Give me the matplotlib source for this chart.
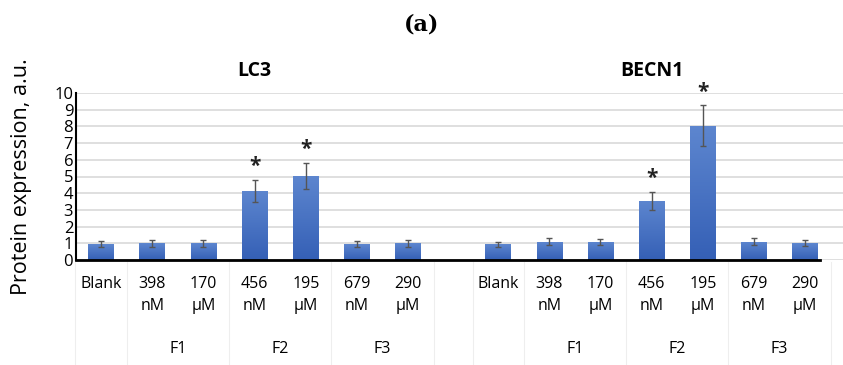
import numpy as np
import matplotlib.pyplot as plt
from matplotlib.colors import LinearSegmentedColormap

# datos
etiquetas = ['Blank', '398\nnM', '170\nμM', '456\nnM', '195\nμM', '679\nnM', '290\nμM']
grupos = ['F1', 'F2', 'F3']
lc3 = [0.95, 1.0, 1.0, 4.15, 5.05, 0.95, 1.0]
lc3_err = [0.18, 0.22, 0.22, 0.65, 0.78, 0.2, 0.2]
becn1 = [0.95, 1.1, 1.1, 3.55, 8.05, 1.1, 1.0]
becn1_err = [0.15, 0.2, 0.18, 0.55, 1.22, 0.2, 0.18]
lc3_sig = [False, False, False, True, True, False, False]
becn1_sig = [False, False, False, True, True, False, False]

plt.rcParams['font.family'] = ['Open Sans', 'DejaVu Sans']

fig = plt.figure(figsize=(8.43, 3.65), dpi=100)
ax = fig.add_axes([76 / 843, 1 - 260 / 365, 1 - 76 / 843, 167 / 365])

offset = 7.76
x1 = np.arange(7)
x2 = np.arange(7) + offset
cmap = LinearSegmentedColormap.from_list('azul', ['#3560b6', '#5d86cf'])
grad = np.linspace(0, 1, 64).reshape(-1, 1)

for xs, vals, errs, sig in [(x1, lc3, lc3_err, lc3_sig), (x2, becn1, becn1_err, becn1_sig)]:
    barras = ax.bar(xs, vals, width=0.5, color='#4673c6', zorder=3)
    # degradado vertical dentro de cada barra
    for b in barras:
        x0, y0 = b.get_x(), b.get_y()
        im = ax.imshow(grad, cmap=cmap, origin='lower', aspect='auto',
                       extent=[x0, x0 + b.get_width(), y0, y0 + b.get_height()], zorder=3.5)
        im.set_clip_path(b)
    ax.errorbar(xs, vals, yerr=errs, fmt='none', ecolor='#555555', elinewidth=1,
                capsize=2.5, capthick=1, zorder=4)
    for x, v, e, s in zip(xs, vals, errs, sig):
        if s:
            ax.text(x, v + e + 0.15, '*', ha='center', va='bottom', fontsize=15,
                    fontweight='bold', color='#222222')

ax.set_xlim(-0.49, 14.5)
ax.set_ylim(0, 10)
ax.set_yticks(range(0, 11))
ax.tick_params(axis='y', length=0, labelsize=12, pad=2)
ax.set_xticks([])
ax.yaxis.grid(True, color='#d9d9d9', linewidth=1.2, zorder=0)
for s in ['top', 'right', 'bottom']:
    ax.spines[s].set_visible(False)
ax.spines['left'].set_linewidth(1.5)
ax.plot([-0.49, 14.05], [0, 0], color='black', linewidth=2, zorder=5, clip_on=False)

# etiquetas de categorias
for xs in [x1, x2]:
    for x, lab in zip(xs, etiquetas):
        ax.text(x, -0.95, lab, ha='center', va='top', fontsize=11.5, linespacing=1.55)
    for i, g in enumerate(grupos):
        ax.text(xs[1 + 2 * i] + 0.5, -5.3, g, ha='center', va='center', fontsize=11.5)
    # lineas tenues de la tabla de categorias
    for xv in [xs[0] - 0.5, xs[1] - 0.5, xs[3] - 0.5, xs[5] - 0.5, xs[6] + 0.5]:
        ax.plot([xv, xv], [-0.1, -6.3], color='#eeeeee', linewidth=0.8, clip_on=False, zorder=1)

ax.text(3, 11.3, 'LC3', ha='center', va='center', fontsize=14, fontweight='bold')
ax.text(3 + offset, 11.3, 'BECN1', ha='center', va='center', fontsize=14, fontweight='bold')
ax.set_ylabel('Protein expression, a.u.', fontsize=15.5)
ax.yaxis.set_label_coords(-0.058, 0.5)

fig.text(0.5, 1 - 25 / 365, '(a)', ha='center', va='center', fontsize=16,
         fontweight='bold', family='DejaVu Serif')

fig.savefig('out.png', dpi=100)
